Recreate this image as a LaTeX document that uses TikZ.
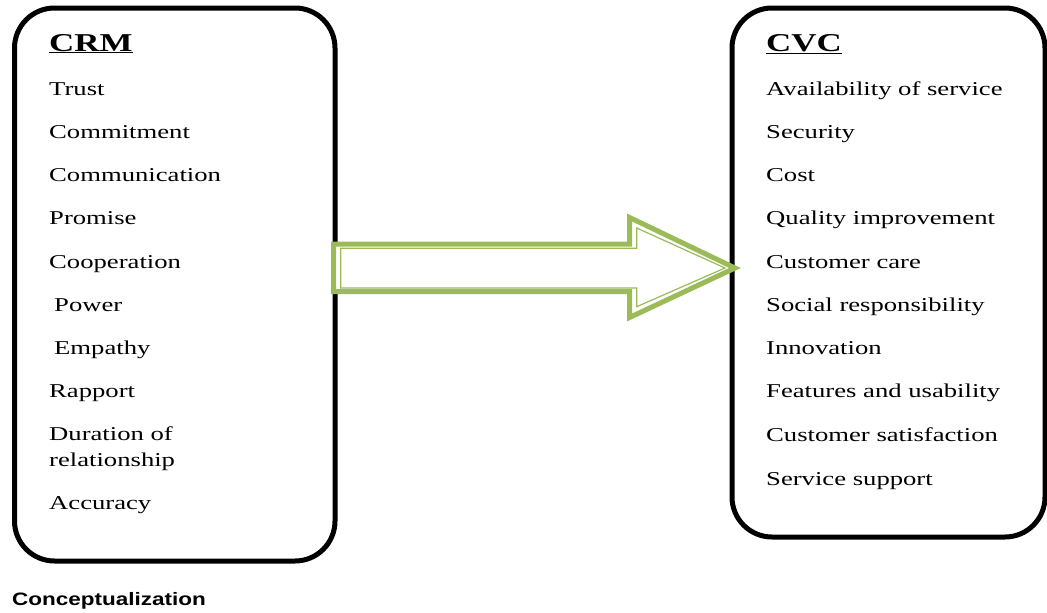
\documentclass[tikz,border=0pt]{standalone}
\usepackage{fontspec}
\setmainfont{Liberation Serif}[FakeStretch=1.36]
\newfontfamily\capfont{Liberation Sans}[FakeStretch=1.25]
\definecolor{arrowgreen}{HTML}{9BBB59}
\begin{document}
\begin{tikzpicture}[x=1pt,y=-1pt,
  box/.style={draw=black,line width=5pt,rounded corners=40pt,inner sep=0pt},
  item/.style={anchor=base west,inner sep=0pt,align=left,font=\fontsize{19.6}{25.5}\selectfont},
  ttl/.style={anchor=base west,inner sep=0pt,font=\fontsize{25.7}{30}\selectfont\bfseries},
  captext/.style={anchor=base west,inner sep=0pt,font=\capfont\bfseries\fontsize{18}{21}\selectfont}]
\useasboundingbox (0,0) rectangle (1047,613);
% boxes
\node[box,minimum width=320.5pt,minimum height=553pt] (crm) at (174.75,284.5) {};
\node[box,minimum width=313pt,minimum height=529pt] (cvc) at (888.5,272.5) {};
% arrow
\draw[arrowgreen,line width=5pt,miter limit=10,fill=white]
  (333.5,244) -- (629.5,244) -- (629.5,217.5) -- (735,268) -- (629.5,317.5) -- (629.5,291.5) -- (333.5,291.5) -- cycle;
\draw[arrowgreen,line width=1.2pt,miter limit=10]
  (340.7,248.3) -- (636.7,248.3) -- (636.7,228) -- (725,268) -- (636.7,306.7) -- (636.7,288) -- (340.7,288) -- cycle;
% left texts
\node[ttl] (tcrm) at (49,51) {\underline{CRM}};
\node[item] (l1) at (49,95) {Trust};
\node[item] (l2) at (49,138) {Commitment};
\node[item] (l3) at (49,181) {Communication};
\node[item] (l4) at (49,224) {Promise};
\node[item] (l5) at (49,268) {Cooperation};
\node[item] (l6) at (54,311) {Power};
\node[item] (l7) at (54,354) {Empathy};
\node[item] (l8) at (49,397) {Rapport};
\node[item] (l9) at (49,466) {Duration of\\relationship};
\node[item] (l10) at (49,509) {Accuracy};
% right texts
\node[ttl] (tcvc) at (766,51) {\underline{CVC}};
\node[item] (r1) at (766,95) {Availability of service};
\node[item] (r2) at (766,138) {Security};
\node[item] (r3) at (766,181) {Cost};
\node[item] (r4) at (766,224) {Quality improvement};
\node[item] (r5) at (766,268) {Customer care};
\node[item] (r6) at (766,311) {Social responsibility};
\node[item] (r7) at (766,354) {Innovation};
\node[item] (r8) at (766,397) {Features and usability};
\node[item] (r9) at (766,441) {Customer satisfaction};
\node[item] (r10) at (766,485) {Service support};
% caption
\node[captext] (caption) at (12,605) {Conceptualization};
\end{tikzpicture}
\end{document}
